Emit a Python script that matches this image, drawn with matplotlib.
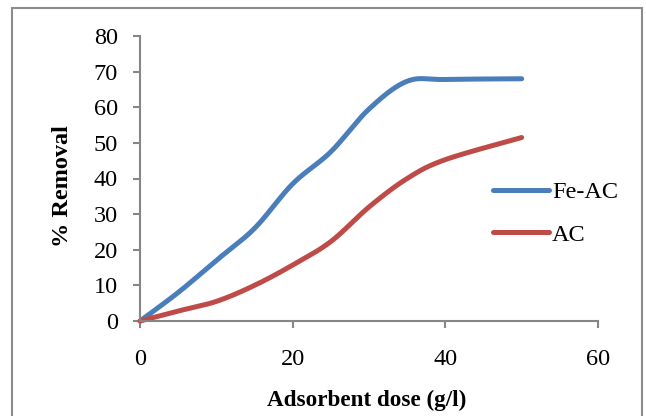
import numpy as np
import matplotlib
matplotlib.use("Agg")
import matplotlib.pyplot as plt
from matplotlib.patches import Rectangle

dose = [0, 5, 10, 15, 20, 25, 30, 35, 40, 50]
fe_ac = [0, 8, 17, 26, 38.5, 47.5, 59.5, 67.3, 67.8, 68]
ac = [0, 2.8, 5.5, 10, 15.7, 22.3, 32, 40, 45.3, 51.5]
series_names = ["Fe-AC", "AC"]
xticks = [0, 20, 40, 60]
yticks = [0, 10, 20, 30, 40, 50, 60, 70, 80]


def smooth(xs, ys, n=30):
    xs = np.asarray(xs, float)
    ys = np.asarray(ys, float)
    P = np.column_stack([xs, ys])
    out = [P[0]]
    for i in range(len(P) - 1):
        p0 = P[i - 1] if i > 0 else P[i]
        p1 = P[i]
        p2 = P[i + 1]
        p3 = P[i + 2] if i + 2 < len(P) else P[i + 1]
        c1 = p1 + (p2 - p0) / 6.0
        c2 = p2 - (p3 - p1) / 6.0
        t = np.linspace(0, 1, n)[1:, None]
        b = ((1 - t) ** 3) * p1 + 3 * ((1 - t) ** 2) * t * c1 + 3 * (1 - t) * t ** 2 * c2 + t ** 3 * p2
        out.extend(b)
    out = np.array(out)
    return out[:, 0], out[:, 1]


plt.rcParams['font.family'] = ['Liberation Serif', 'DejaVu Serif']
fig = plt.figure(figsize=(6.46, 4.16), dpi=100)
fig.patches.append(Rectangle((12 / 646, -0.1), (642 - 12) / 646, 1.1 - 8 / 416,
                             transform=fig.transFigure, fill=False,
                             edgecolor='#8c8c8c', linewidth=1.5))
ax = fig.add_axes([140 / 646, 1 - 321 / 416, (598 - 140) / 646, (321 - 36) / 416])

colors = ['#4A7EBB', '#BE4B48']
for ys, name, c in zip([fe_ac, ac], series_names, colors):
    sx, sy = smooth(dose, ys)
    ax.plot(sx, sy, color=c, linewidth=3.6, solid_capstyle='round', label=name, clip_on=False)

ax.set_xlim(0, 60)
ax.set_ylim(0, 80)
ax.set_xticks(xticks)
ax.set_yticks(yticks)
for s in ['top', 'right']:
    ax.spines[s].set_visible(False)
for s in ['left', 'bottom']:
    ax.spines[s].set_color('#868686')
    ax.spines[s].set_linewidth(1.5)
ax.tick_params(axis='both', colors='#868686', width=1.5, length=5, labelcolor='black', labelsize=17.5)
ax.tick_params(axis='x', pad=15)
ax.tick_params(axis='y', pad=11)

ax.set_xlabel('Adsorbent dose (g/l)', fontsize=16.7, fontweight='bold')
ax.set_ylabel('% Removal', fontsize=17.5, fontweight='bold')
ax.xaxis.set_label_coords(0.496, -0.241)
ax.yaxis.set_label_coords(-0.146, 0.474)

leg = ax.legend(loc='upper left', bbox_to_anchor=(0.77, 0.49), frameon=False, fontsize=17.5,
                handlelength=2.3, handletextpad=0.15, labelspacing=0.84, borderaxespad=0,
                borderpad=0)

fig.savefig('out.png', dpi=100)
